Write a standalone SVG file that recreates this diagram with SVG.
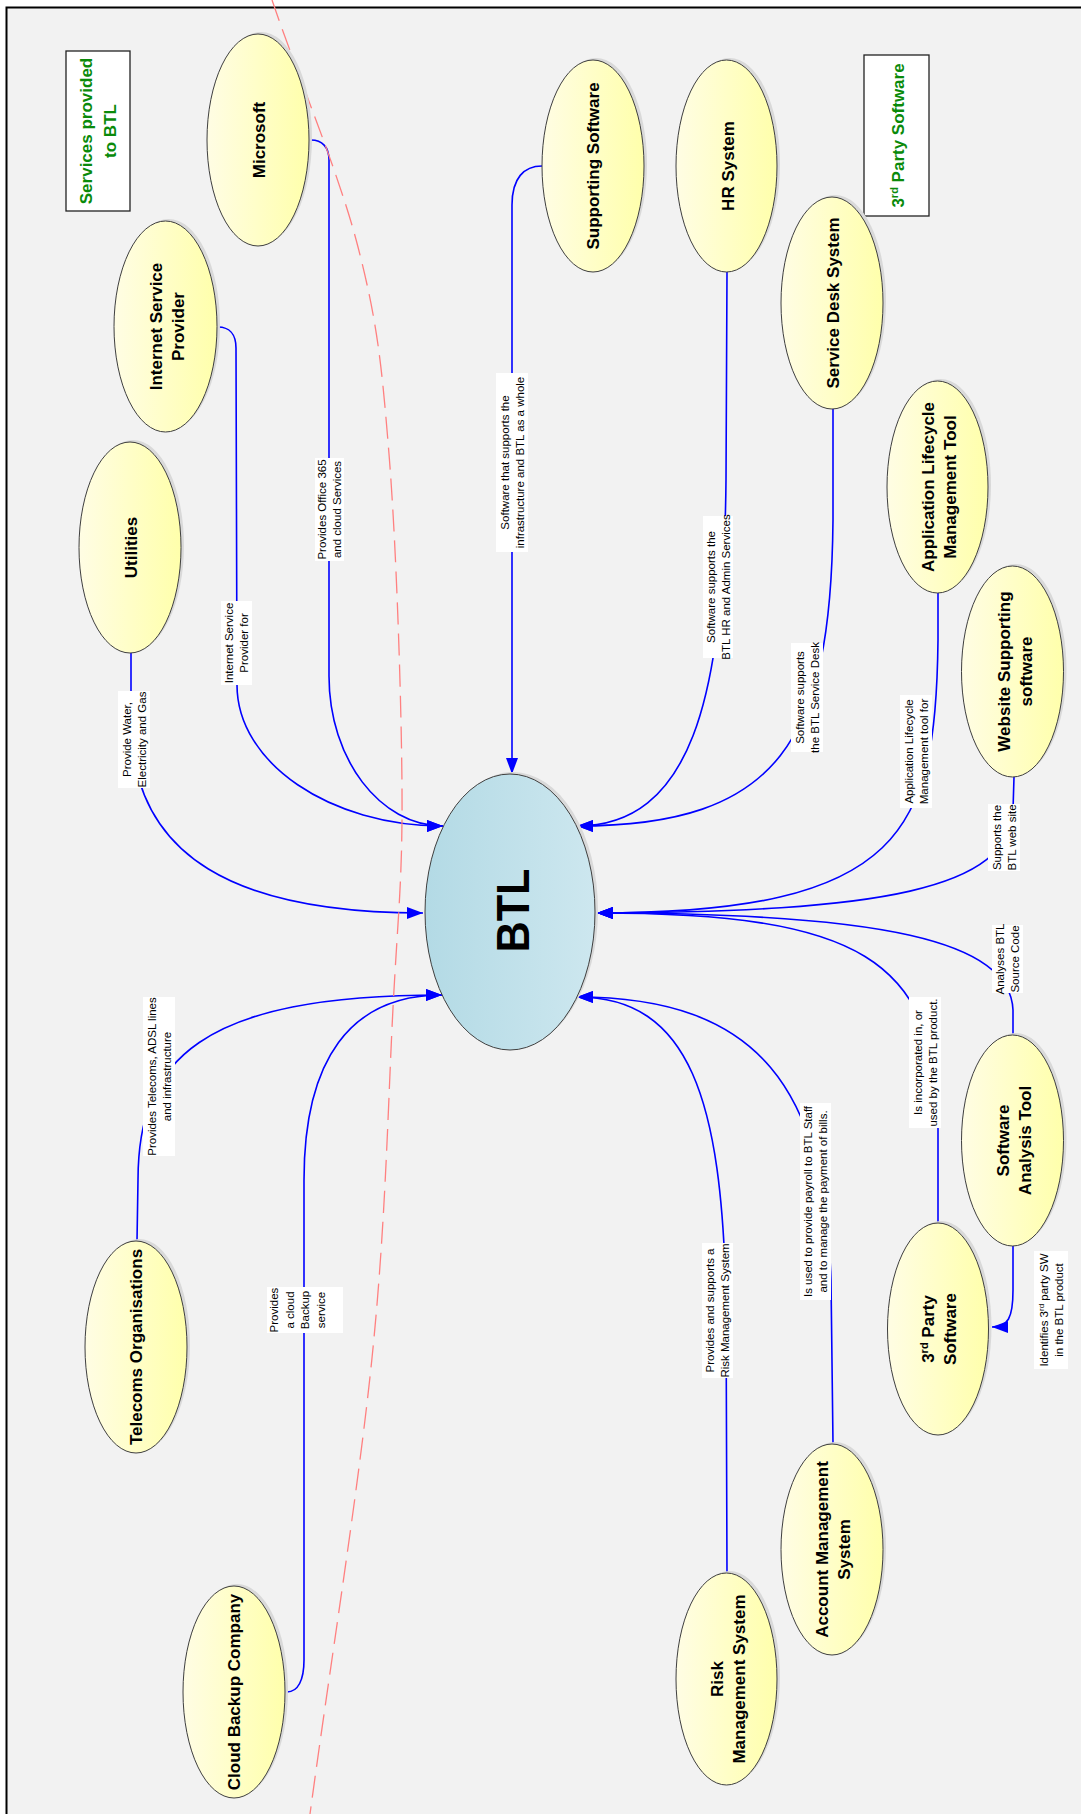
<svg xmlns="http://www.w3.org/2000/svg" width="1081" height="1814" viewBox="0 0 1081 1814">
<defs>
<linearGradient id="gy" x1="0" y1="0" x2="1" y2="0"><stop offset="0" stop-color="#fffde4"/><stop offset="1" stop-color="#ffffab"/></linearGradient>
<linearGradient id="gb" x1="0" y1="0" x2="1" y2="0"><stop offset="0" stop-color="#b3dae5"/><stop offset="1" stop-color="#cde7ef"/></linearGradient>
<marker id="arr" viewBox="0 0 16 12" refX="16" refY="6" markerWidth="16" markerHeight="12" markerUnits="userSpaceOnUse" orient="auto"><path d="M0,0 L16,6 L0,12 z" fill="#0000ff"/></marker>
<style>
.nd{stroke:#3f3f3f;stroke-width:1;fill:url(#gy)}
.btl{stroke:#3f3f3f;stroke-width:1;fill:url(#gb)}
.sh{fill:#d9d9d9}
.nt{font-family:"Liberation Sans",Arial,sans-serif;font-weight:bold;font-size:17px;fill:#000;text-anchor:middle}
.lt{font-family:"Liberation Sans",Arial,sans-serif;font-size:11.5px;fill:#000;text-anchor:middle}
.lb{fill:#ffffff}
.cn{fill:none;stroke:#0000ff;stroke-width:1.6}
.ar{marker-end:url(#arr)}
.lg{fill:#ffffff;stroke:#222;stroke-width:1.3}
.gt{font-family:"Liberation Sans",Arial,sans-serif;font-weight:bold;font-size:17px;fill:#0a8a0a;text-anchor:middle}
.red{fill:none;stroke:#ff8080;stroke-width:1.3;stroke-dasharray:22 9}
</style>
</defs>
<rect x="0" y="0" width="1081" height="1814" fill="#ffffff"/>
<rect x="6.5" y="7.5" width="1090" height="1820" fill="#f2f2f2" stroke="#000" stroke-width="2"/>

<g id="legend-services">
<rect class="lg" x="66" y="51" width="64" height="160"/>
<text class="gt" transform="translate(98,131) rotate(-90)"><tspan x="0" y="-6">Services provided</tspan><tspan x="0" y="18">to BTL</tspan></text>
</g>
<g id="legend-3rdparty">
<rect class="lg" x="864" y="55" width="65" height="161"/>
<text class="gt" transform="translate(896.5,135.5) rotate(-90)"><tspan x="0" y="7">3<tspan dy="-6" font-size="11">rd</tspan><tspan dy="6"> Party Software</tspan></tspan></text>
</g>

<g id="connectors">
<path class="cn ar" d="M311,140 C322,140 329,147 329,160 L329,676 C329,759 380,826 443,826"/>
<path class="cn ar" d="M218,327 C229,327 236,334 236,348 L237,685 C237,763 330,826 443,826"/>
<path class="cn ar" d="M131,653 L131,720 C131,860 240,913 423,913"/>
<path class="cn ar" d="M542,166 C524,166 512,178 512,205 L512,774"/>
<path class="cn ar" d="M727,272 L726,480 C724,700 690,826 577,826"/>
<path class="cn ar" d="M833,409 L833,520 C831,740 780,826 577,826"/>
<path class="cn ar" d="M938,593 L938,640 C936,830 905,913 597,913"/>
<path class="cn ar" d="M1014,777 L1013,810 C1010,890 880,912 597,913"/>
<path class="cn ar" d="M1013,1035 L1013,1010 C1010,940 880,913 597,913"/>
<path class="cn ar" d="M938,1223 L938,1120 C935,960 860,913 597,913"/>
<path class="cn ar" d="M1013,1246 L1013,1290 C1013,1318 1008,1327 992,1327"/>
<path class="cn ar" d="M137,1241 L138,1180 C138,1060 200,995 442,995"/>
<path class="cn ar" d="M287,1692 C298,1692 304,1680 304,1660 L304,1180 C304,1060 350,995 442,995"/>
<path class="cn ar" d="M727,1573 L726,1300 C722,1100 690,997 577,997"/>
<path class="cn ar" d="M833,1444 L831,1280 C825,1090 760,997 577,997"/>

<g id="labels">
<rect class="lb" x="118" y="691" width="32" height="97"/>
<text class="lt" transform="translate(134,739.5) rotate(-90)"><tspan x="0" y="-3.5">Provide Water,</tspan><tspan x="0" y="11.5">Electricity and Gas</tspan></text>
<rect class="lb" x="221" y="601" width="31" height="84"/>
<text class="lt" transform="translate(236.5,643) rotate(-90)"><tspan x="0" y="-3.5">Internet Service</tspan><tspan x="0" y="11.5">Provider for</tspan></text>
<rect class="lb" x="315" y="458" width="29" height="103"/>
<text class="lt" transform="translate(329.5,509.5) rotate(-90)"><tspan x="0" y="-3.5">Provides Office 365</tspan><tspan x="0" y="11.5">and cloud Services</tspan></text>
<rect class="lb" x="496" y="373" width="32" height="179"/>
<text class="lt" transform="translate(512,462.5) rotate(-90)"><tspan x="0" y="-3.5">Software that supports the</tspan><tspan x="0" y="11.5">infrastructure and BTL as a whole</tspan></text>
<rect class="lb" x="703" y="516" width="30" height="142"/>
<text class="lt" transform="translate(718,587) rotate(-90)"><tspan x="0" y="-3.5">Software supports the</tspan><tspan x="0" y="11.5">BTL HR and Admin Services</tspan></text>
<rect class="lb" x="791" y="643" width="32" height="109"/>
<text class="lt" transform="translate(807,697.5) rotate(-90)"><tspan x="0" y="-3.5">Software supports</tspan><tspan x="0" y="11.5">the BTL Service Desk</tspan></text>
<rect class="lb" x="900" y="695" width="32" height="113"/>
<text class="lt" transform="translate(916,751.5) rotate(-90)"><tspan x="0" y="-3.5">Application Lifecycle</tspan><tspan x="0" y="11.5">Management tool for</tspan></text>
<rect class="lb" x="988" y="804" width="32" height="67"/>
<text class="lt" transform="translate(1004,837.5) rotate(-90)"><tspan x="0" y="-3.5">Supports the</tspan><tspan x="0" y="11.5">BTL web site</tspan></text>
<rect class="lb" x="992" y="925" width="31" height="68"/>
<text class="lt" transform="translate(1007.5,959) rotate(-90)"><tspan x="0" y="-3.5">Analyses BTL</tspan><tspan x="0" y="11.5">Source Code</tspan></text>
<rect class="lb" x="909" y="997" width="32" height="131"/>
<text class="lt" transform="translate(925,1062.5) rotate(-90)"><tspan x="0" y="-3.5">Is incorporated in, or</tspan><tspan x="0" y="11.5">used by the BTL product.</tspan></text>
<rect class="lb" x="1034" y="1251" width="34" height="118"/>
<text class="lt" transform="translate(1051,1310) rotate(-90)"><tspan x="0" y="-3.5">Identifies 3<tspan dy="-4" font-size="8">rd</tspan><tspan dy="4"> party SW</tspan></tspan><tspan x="0" y="11.5">in the BTL product</tspan></text>
<rect class="lb" x="800" y="1103" width="31" height="197"/>
<text class="lt" transform="translate(815.5,1201.5) rotate(-90)"><tspan x="0" y="-3.5">Is used to provide payroll to BTL Staff</tspan><tspan x="0" y="11.5">and to manage the payment of bills.</tspan></text>
<rect class="lb" x="702" y="1243" width="31" height="135"/>
<text class="lt" transform="translate(717.5,1310.5) rotate(-90)"><tspan x="0" y="-3.5">Provides and supports a</tspan><tspan x="0" y="11.5">Risk Management System</tspan></text>
<rect class="lb" x="143" y="997" width="32" height="159"/>
<text class="lt" transform="translate(159,1076.5) rotate(-90)"><tspan x="0" y="-3.5">Provides Telecoms, ADSL lines</tspan><tspan x="0" y="11.5">and infrastructure</tspan></text>
<rect class="lb" x="267" y="1287" width="76" height="46"/>
<text class="lt" transform="translate(267,1310) rotate(-90)"><tspan x="0" y="11">Provides</tspan><tspan x="0" y="26.5">a cloud</tspan><tspan x="0" y="42">Backup</tspan><tspan x="0" y="57.5">service</tspan></text>
</g>
</g>

<path id="boundary" class="red" d="M272,0 C301,85 338.7,172 358,247 C377.3,322 381.7,364 389,454 C396.3,544 401.3,694.7 402,787 C402.7,879.3 398,912.8 393,1008 C388,1103 385.8,1224 372,1358 C358.2,1492 330.7,1661 310,1814"/>

<g id="node-microsoft">
<ellipse class="sh" cx="261" cy="138" rx="51" ry="106"/>
<ellipse class="nd" cx="258" cy="140" rx="51" ry="106"/>
<text class="nt" transform="translate(258,140) rotate(-90)"><tspan x="0" y="7">Microsoft</tspan></text>
</g>
<g id="node-isp">
<ellipse class="sh" cx="168.5" cy="324.5" rx="51.5" ry="105.5"/>
<ellipse class="nd" cx="165.5" cy="326.5" rx="51.5" ry="105.5"/>
<text class="nt" transform="translate(165.5,326.5) rotate(-90)"><tspan x="0" y="-4">Internet Service</tspan><tspan x="0" y="18">Provider</tspan></text>
</g>
<g id="node-utilities">
<ellipse class="sh" cx="133" cy="545.5" rx="51" ry="105.5"/>
<ellipse class="nd" cx="130" cy="547.5" rx="51" ry="105.5"/>
<text class="nt" transform="translate(130,547.5) rotate(-90)"><tspan x="0" y="7">Utilities</tspan></text>
</g>
<g id="node-supporting">
<ellipse class="sh" cx="596" cy="164" rx="51" ry="106"/>
<ellipse class="nd" cx="593" cy="166" rx="51" ry="106"/>
<text class="nt" transform="translate(593,166) rotate(-90)"><tspan x="0" y="6">Supporting Software</tspan></text>
</g>
<g id="node-hr">
<ellipse class="sh" cx="729.5" cy="164" rx="50.5" ry="106"/>
<ellipse class="nd" cx="726.5" cy="166" rx="50.5" ry="106"/>
<text class="nt" transform="translate(726.5,166) rotate(-90)"><tspan x="0" y="7">HR System</tspan></text>
</g>
<g id="node-servicedesk">
<ellipse class="sh" cx="835" cy="301" rx="51" ry="106"/>
<ellipse class="nd" cx="832" cy="303" rx="51" ry="106"/>
<text class="nt" transform="translate(832,303) rotate(-90)"><tspan x="0" y="7">Service Desk System</tspan></text>
</g>
<g id="node-alm">
<ellipse class="sh" cx="940.5" cy="485" rx="50.5" ry="106"/>
<ellipse class="nd" cx="937.5" cy="487" rx="50.5" ry="106"/>
<text class="nt" transform="translate(937.5,487) rotate(-90)"><tspan x="0" y="-4">Application Lifecycle</tspan><tspan x="0" y="18">Management Tool</tspan></text>
</g>
<g id="node-website">
<ellipse class="sh" cx="1015.5" cy="669.5" rx="51" ry="105.5"/>
<ellipse class="nd" cx="1012.5" cy="671.5" rx="51" ry="105.5"/>
<text class="nt" transform="translate(1012.5,671.5) rotate(-90)"><tspan x="0" y="-3">Website Supporting</tspan><tspan x="0" y="19">software</tspan></text>
</g>
<g id="node-analysis">
<ellipse class="sh" cx="1015.5" cy="1138.5" rx="51" ry="105.5"/>
<ellipse class="nd" cx="1012.5" cy="1140.5" rx="51" ry="105.5"/>
<text class="nt" transform="translate(1012.5,1140.5) rotate(-90)"><tspan x="0" y="-4">Software</tspan><tspan x="0" y="18">Analysis Tool</tspan></text>
</g>
<g id="node-3rdparty">
<ellipse class="sh" cx="941" cy="1327" rx="50.5" ry="106"/>
<ellipse class="nd" cx="938" cy="1329" rx="50.5" ry="106"/>
<text class="nt" transform="translate(938,1329) rotate(-90)"><tspan x="0" y="-4">3<tspan dy="-6" font-size="11">rd</tspan><tspan dy="6"> Party</tspan></tspan><tspan x="0" y="18">Software</tspan></text>
</g>
<g id="node-account">
<ellipse class="sh" cx="835" cy="1547.5" rx="51" ry="105.5"/>
<ellipse class="nd" cx="832" cy="1549.5" rx="51" ry="105.5"/>
<text class="nt" transform="translate(832,1549.5) rotate(-90)"><tspan x="0" y="-4">Account Management</tspan><tspan x="0" y="18">System</tspan></text>
</g>
<g id="node-risk">
<ellipse class="sh" cx="729.5" cy="1677" rx="50.5" ry="106"/>
<ellipse class="nd" cx="726.5" cy="1679" rx="50.5" ry="106"/>
<text class="nt" transform="translate(726.5,1679) rotate(-90)"><tspan x="0" y="-4">Risk</tspan><tspan x="0" y="18">Management System</tspan></text>
</g>
<g id="node-telecoms">
<ellipse class="sh" cx="139" cy="1345" rx="51" ry="106"/>
<ellipse class="nd" cx="136" cy="1347" rx="51" ry="106"/>
<text class="nt" transform="translate(136,1347) rotate(-90)"><tspan x="0" y="6">Telecoms Organisations</tspan></text>
</g>
<g id="node-cloud">
<ellipse class="sh" cx="237" cy="1690" rx="51" ry="106"/>
<ellipse class="nd" cx="234" cy="1692" rx="51" ry="106"/>
<text class="nt" transform="translate(234,1692) rotate(-90)"><tspan x="0" y="6">Cloud Backup Company</tspan></text>
</g>
<g id="node-btl">
<ellipse class="sh" cx="513" cy="910" rx="85" ry="138"/>
<ellipse class="btl" cx="510" cy="912" rx="85" ry="138"/>
<text class="nt" font-size="46" transform="translate(510,910.5) rotate(-90)" style="font-size:46px"><tspan x="0" y="18.5" textLength="84" lengthAdjust="spacingAndGlyphs">BTL</tspan></text>
</g>
</svg>
